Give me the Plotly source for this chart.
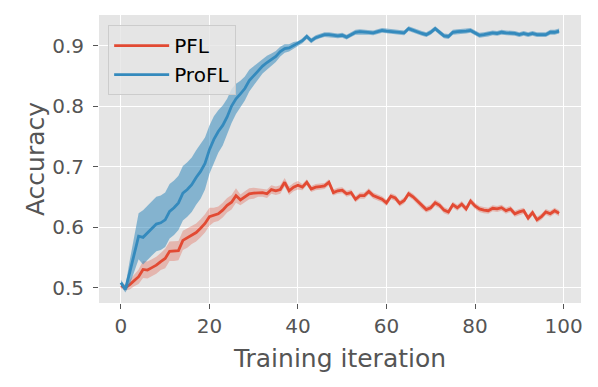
import plotly.graph_objects as go

# iterations 0..99
iterations = list(range(100))

pfl_mean = [
    0.503, 0.500, 0.505, 0.512, 0.518, 0.530, 0.529, 0.533, 0.537, 0.543,
    0.548, 0.560, 0.560, 0.561, 0.578, 0.582, 0.587, 0.591, 0.598, 0.606,
    0.617, 0.620, 0.622, 0.628, 0.636, 0.641, 0.652, 0.645, 0.650, 0.655,
    0.656, 0.657, 0.657, 0.655, 0.662, 0.660, 0.662, 0.674, 0.660, 0.666,
    0.669, 0.666, 0.674, 0.663, 0.666, 0.667, 0.668, 0.674, 0.657, 0.660,
    0.661, 0.655, 0.657, 0.646, 0.652, 0.652, 0.659, 0.652, 0.649, 0.646,
    0.640, 0.651, 0.648, 0.639, 0.644, 0.655, 0.650, 0.643, 0.635, 0.629,
    0.632, 0.640, 0.636, 0.628, 0.625, 0.637, 0.632, 0.638, 0.630, 0.643,
    0.635, 0.630, 0.628, 0.627, 0.631, 0.630, 0.632, 0.627, 0.630, 0.622,
    0.625, 0.627, 0.615, 0.624, 0.612, 0.617, 0.625, 0.622, 0.627, 0.623,
]
pfl_std = [
    0.004, 0.005, 0.008, 0.010, 0.012, 0.014, 0.014, 0.014, 0.014, 0.014,
    0.016, 0.016, 0.016, 0.016, 0.016, 0.016, 0.015, 0.015, 0.015, 0.015,
    0.015, 0.012, 0.012, 0.012, 0.012, 0.012, 0.012, 0.009, 0.009, 0.009,
    0.009, 0.007, 0.007, 0.007, 0.007, 0.007, 0.007, 0.007, 0.007, 0.007,
    0.007, 0.005, 0.005, 0.005, 0.005, 0.005, 0.005, 0.005, 0.005, 0.005,
    0.005, 0.005, 0.005, 0.005, 0.005, 0.005, 0.005, 0.005, 0.005, 0.005,
    0.005, 0.005, 0.005, 0.005, 0.005, 0.005, 0.005, 0.005, 0.005, 0.005,
    0.005, 0.005, 0.005, 0.005, 0.005, 0.005, 0.005, 0.005, 0.005, 0.005,
    0.005, 0.005, 0.005, 0.005, 0.005, 0.005, 0.005, 0.005, 0.005, 0.005,
    0.005, 0.005, 0.005, 0.005, 0.005, 0.005, 0.005, 0.005, 0.005, 0.005,
]

profl_mean = [
    0.508, 0.497, 0.525, 0.555, 0.585, 0.583, 0.590, 0.598, 0.605, 0.607,
    0.612, 0.626, 0.632, 0.640, 0.656, 0.662, 0.670, 0.682, 0.692, 0.705,
    0.728, 0.745, 0.758, 0.768, 0.782, 0.800, 0.812, 0.820, 0.829, 0.842,
    0.850, 0.858, 0.866, 0.872, 0.877, 0.882, 0.890, 0.895, 0.896, 0.900,
    0.903, 0.908, 0.915, 0.908, 0.913, 0.916, 0.918, 0.918, 0.917, 0.916,
    0.917, 0.914, 0.918, 0.922, 0.923, 0.922, 0.922, 0.921, 0.923, 0.925,
    0.924, 0.923, 0.922, 0.922, 0.921, 0.928, 0.925, 0.923, 0.920, 0.918,
    0.922, 0.928, 0.922, 0.916, 0.915, 0.922, 0.923, 0.923, 0.924, 0.925,
    0.921, 0.917, 0.918, 0.919, 0.921, 0.920, 0.922, 0.921, 0.921, 0.920,
    0.918, 0.920, 0.918, 0.920, 0.918, 0.918, 0.918, 0.922, 0.922, 0.924,
]
profl_std = [
    0.005, 0.005, 0.020, 0.030, 0.038, 0.045, 0.045, 0.045, 0.045, 0.045,
    0.045, 0.045, 0.045, 0.045, 0.045, 0.045, 0.045, 0.045, 0.045, 0.043,
    0.040, 0.038, 0.035, 0.033, 0.030, 0.028, 0.025, 0.022, 0.020, 0.018,
    0.016, 0.014, 0.012, 0.011, 0.010, 0.009, 0.008, 0.007, 0.006, 0.006,
    0.004, 0.004, 0.004, 0.004, 0.004, 0.004, 0.004, 0.004, 0.004, 0.004,
    0.004, 0.004, 0.004, 0.004, 0.004, 0.004, 0.004, 0.004, 0.004, 0.004,
    0.004, 0.004, 0.004, 0.004, 0.004, 0.004, 0.004, 0.004, 0.004, 0.004,
    0.004, 0.004, 0.004, 0.004, 0.004, 0.004, 0.004, 0.004, 0.004, 0.004,
    0.004, 0.004, 0.004, 0.004, 0.004, 0.004, 0.004, 0.004, 0.004, 0.004,
    0.004, 0.004, 0.004, 0.004, 0.004, 0.004, 0.004, 0.004, 0.004, 0.004,
]

series = [
    ("PFL", pfl_mean, pfl_std, "#E24A33", "rgba(226,74,51,0.3)"),
    ("ProFL", profl_mean, profl_std, "#348ABD", "rgba(52,138,189,0.55)"),
]

fig = go.Figure()
for name, mean, std, color, fill in series:
    upper = [m + s for m, s in zip(mean, std)]
    lower = [m - s for m, s in zip(mean, std)]
    fig.add_trace(go.Scatter(x=iterations + iterations[::-1], y=upper + lower[::-1],
                             fill="toself", fillcolor=fill, line=dict(width=0),
                             mode="lines", hoverinfo="skip", showlegend=False))
    fig.add_trace(go.Scatter(x=iterations, y=mean, mode="lines", name=name,
                             line=dict(color=color, width=2.8)))

axis_style = dict(
    showgrid=True, gridcolor="white", gridwidth=1.4, zeroline=False,
    showline=False, ticks="outside", ticklen=5, tickwidth=1.2, tickcolor="#555555",
    tickfont=dict(family="DejaVu Sans", size=20, color="#555555"),
)

# the page body has an 8px margin, so the figure is shrunk by that much
fig.update_layout(
    width=590, height=379,
    margin=dict(l=91, r=17, t=7, b=84),
    paper_bgcolor="white", plot_bgcolor="#E5E5E5",
    font=dict(family="DejaVu Sans", color="#555555"),
    xaxis=dict(axis_style, range=[-4.95, 103.95], tickvals=[0, 20, 40, 60, 80, 100],
               title=dict(text="Training iteration", standoff=12,
                          font=dict(size=25, color="#555555"))),
    yaxis=dict(axis_style, range=[0.4745, 0.9505], tickvals=[0.5, 0.6, 0.7, 0.8, 0.9],
               tickformat=".1f", ticklabelstandoff=5,
               title=dict(text="Accuracy", standoff=0,
                          font=dict(size=25, color="#555555"))),
    legend=dict(x=0.019, y=0.965, xanchor="left", yanchor="top", itemwidth=55,
                bgcolor="rgba(229,229,229,0.8)", bordercolor="#CCCCCC", borderwidth=1,
                font=dict(family="DejaVu Sans", size=20, color="black")),
)

fig.write_html("out.html")
